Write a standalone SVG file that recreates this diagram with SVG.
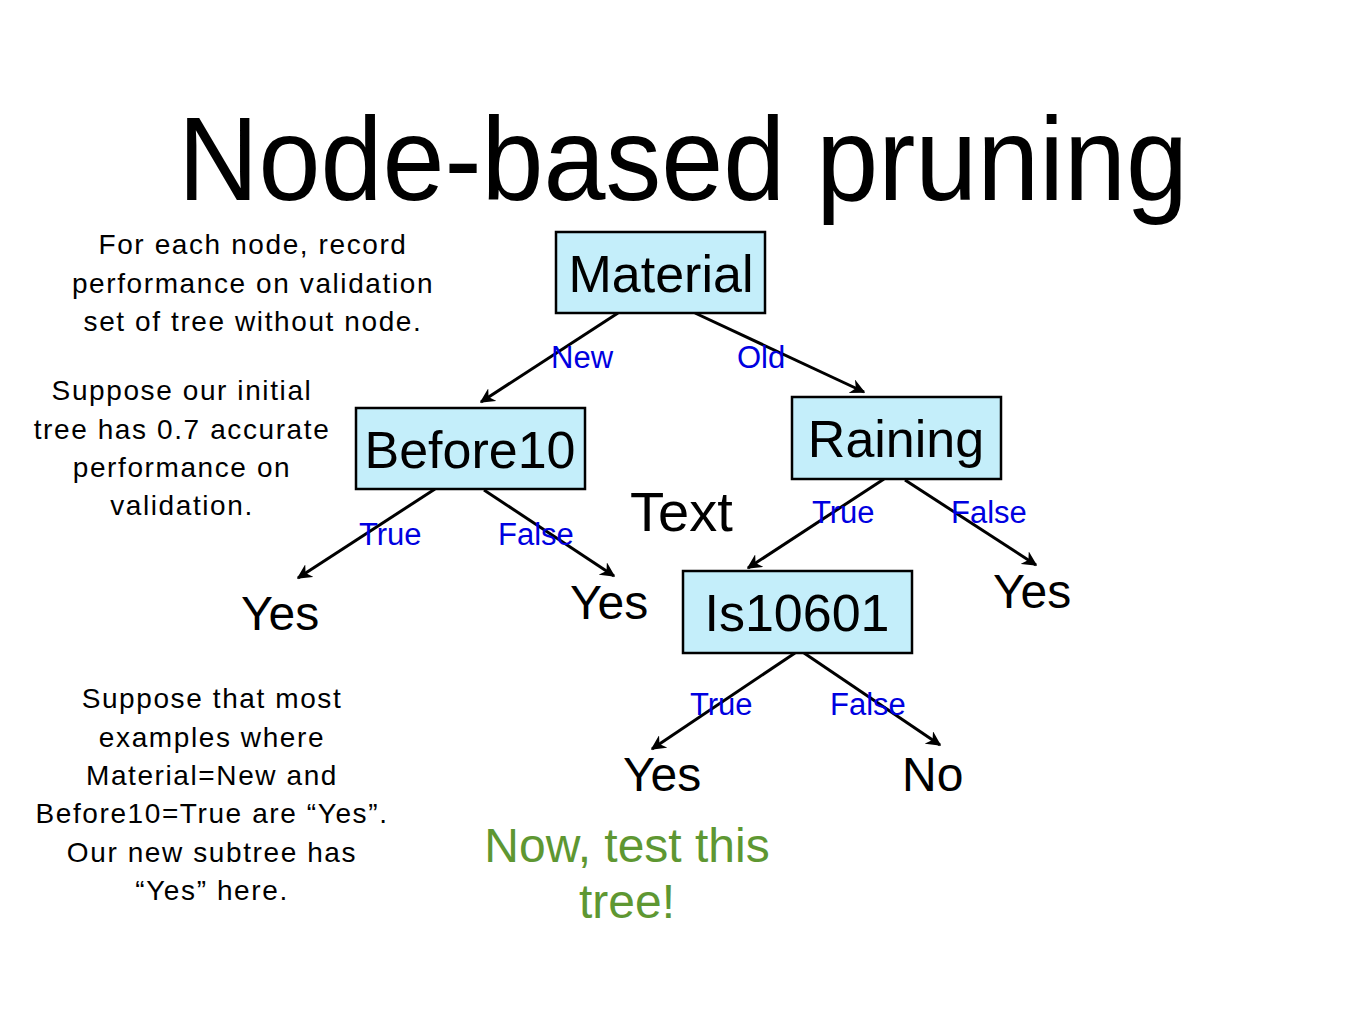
<svg xmlns="http://www.w3.org/2000/svg" width="1365" height="1024" viewBox="0 0 1365 1024">
<defs>
<style>
text{font-family:"Liberation Sans",Arial,sans-serif;}
.box{fill:#C4EEFA;stroke:#000;stroke-width:2.5;}
.nt{font-size:52px;fill:#000;text-anchor:middle;}
.lf{font-size:48px;fill:#000;}
.el{font-size:31px;fill:#0000E0;}
.note{font-size:28px;fill:#000;text-anchor:middle;letter-spacing:1.6px;}
.edge{stroke:#000;stroke-width:3;fill:none;marker-end:url(#ah);}
</style>
<marker id="ah" viewBox="0 0 10 10" refX="9" refY="5" markerWidth="5" markerHeight="5" orient="auto" markerUnits="strokeWidth">
<path d="M0,0 L10,5 L0,10 L3,5 Z" fill="#000"/>
</marker>
</defs>
<rect width="1365" height="1024" fill="#fff"/>
<text x="178" y="200" font-size="118" textLength="1010" lengthAdjust="spacingAndGlyphs" fill="#000">Node-based pruning</text>

<g id="connectors">
<line class="edge" x1="618" y1="313" x2="481" y2="402"/>
<line class="edge" x1="695" y1="313" x2="864" y2="392"/>
<line class="edge" x1="435" y1="489" x2="298" y2="578"/>
<line class="edge" x1="484" y1="490" x2="614" y2="576"/>
<line class="edge" x1="884" y1="479" x2="748" y2="568"/>
<line class="edge" x1="905" y1="480" x2="1036" y2="565"/>
<line class="edge" x1="795" y1="653" x2="652" y2="749"/>
<line class="edge" x1="804" y1="653" x2="940" y2="745"/>
</g>

<g id="edge-labels">
<text class="el" x="551" y="368">New</text>
<text class="el" x="737" y="368">Old</text>
<text class="el" x="359" y="545">True</text>
<text class="el" x="498" y="545">False</text>
<text class="el" x="812" y="523">True</text>
<text class="el" x="951" y="523">False</text>
<text class="el" x="690" y="715">True</text>
<text class="el" x="830" y="715">False</text>
</g>

<g id="node-material">
<rect class="box" x="556" y="232" width="209" height="81"/>
<text class="nt" x="661" y="292">Material</text>
</g>
<g id="node-before10">
<rect class="box" x="356" y="408" width="229" height="81"/>
<text class="nt" x="470" y="468">Before10</text>
</g>
<g id="node-raining">
<rect class="box" x="792" y="397" width="209" height="82"/>
<text class="nt" x="896" y="457">Raining</text>
</g>
<g id="node-is10601">
<rect class="box" x="683" y="571" width="229" height="82"/>
<text class="nt" x="797" y="631">Is10601</text>
</g>

<g id="leaf-yes1"><text class="lf" x="241" y="630">Yes</text></g>
<g id="leaf-yes2"><text class="lf" x="570" y="619">Yes</text></g>
<g id="leaf-yes3"><text class="lf" x="993" y="608">Yes</text></g>
<g id="leaf-yes4"><text class="lf" x="623" y="791">Yes</text></g>
<g id="leaf-no"><text class="lf" x="902" y="791">No</text></g>

<text x="630" y="531" font-size="56" fill="#000">Text</text>

<text font-size="48" fill="#5E9732" text-anchor="middle"><tspan x="627" y="862">Now, test this</tspan><tspan x="627" y="918">tree!</tspan></text>

<text class="note"><tspan x="253" y="254">For each node, record</tspan><tspan x="253" y="293">performance on validation</tspan><tspan x="253" y="331">set of tree without node.</tspan></text>
<text class="note"><tspan x="182" y="400">Suppose our initial</tspan><tspan x="182" y="439">tree has 0.7 accurate</tspan><tspan x="182" y="477">performance on</tspan><tspan x="182" y="515">validation.</tspan></text>
<text class="note"><tspan x="212" y="708">Suppose that most</tspan><tspan x="212" y="747">examples  where</tspan><tspan x="212" y="785">Material=New and</tspan><tspan x="212" y="823">Before10=True are “Yes”.</tspan><tspan x="212" y="862">Our new subtree has</tspan><tspan x="212" y="900">“Yes” here.</tspan></text>
</svg>
